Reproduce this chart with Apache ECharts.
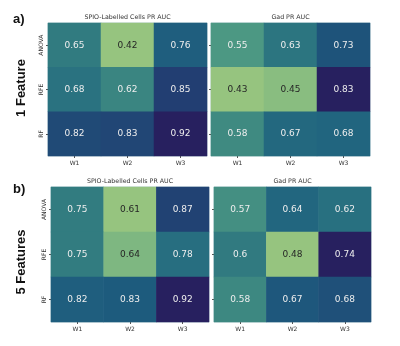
<!DOCTYPE html>
<html>
<head>
<meta charset="utf-8">
<script src="https://cdn.jsdelivr.net/npm/echarts@6/dist/echarts.min.js"></script>
<style>
html, body { margin: 0; padding: 0; background: #fff; }
#chart { width: 400px; height: 346px; }
</style>
</head>
<body>
<div id="chart"></div>
<script>
// categories
const rows = ['ANOVA', 'RFE', 'RF'];
const cols = ['W1', 'W2', 'W3'];

// values per panel, rows top->bottom, cols left->right
const spio1 = [[0.65, 0.42, 0.76], [0.68, 0.62, 0.85], [0.82, 0.83, 0.92]];
const gad1 = [[0.55, 0.63, 0.73], [0.43, 0.45, 0.83], [0.58, 0.67, 0.68]];
const spio5 = [[0.75, 0.61, 0.87], [0.75, 0.64, 0.78], [0.82, 0.83, 0.92]];
const gad5 = [[0.57, 0.64, 0.62], [0.6, 0.48, 0.74], [0.58, 0.67, 0.68]];

const panelTitles = ['SPIO-Labelled Cells PR AUC', 'Gad PR AUC', 'SPIO-Labelled Cells PR AUC', 'Gad PR AUC'];

// crest-like ramp, light green -> dark navy
const crest = ['#96c47f', '#72b182', '#4f9b83', '#357f80', '#246b80', '#1d5a7d', '#223f72', '#27205f'];

const font = 'DejaVu Sans, sans-serif';
const panels = [spio1, gad1, spio5, gad5];
const grids = [
	{left: 48, top: 23, width: 159, height: 133},
	{left: 211, top: 23, width: 159, height: 133},
	{left: 51, top: 187, width: 158, height: 135},
	{left: 214, top: 187, width: 157, height: 135},
];

function buildData(m) {
	const flat = m.flat();
	const lo = Math.min(...flat), hi = Math.max(...flat);
	const out = [];
	m.forEach((r, ri) => r.forEach((v, ci) => {
		const t = (v - lo) / (hi - lo);
		out.push({
			value: [ci, ri, v],
			label: {color: t < 0.25 ? '#262626' : '#eeeeee'}
		});
	}));
	return {out, lo, hi};
}

const option = {
	animation: false,
	backgroundColor: '#fff',
	title: [],
	grid: [],
	xAxis: [],
	yAxis: [],
	visualMap: [],
	series: [],
	graphic: [
		{type: 'text', left: 13, top: 13, style: {text: 'a)', font: 'bold 13px Liberation Sans, Arial, sans-serif', fill: '#111'}},
		{type: 'text', left: 13, top: 183, style: {text: 'b)', font: 'bold 13px Liberation Sans, Arial, sans-serif', fill: '#111'}},
		{type: 'text', x: 21, y: 88, rotation: Math.PI / 2,
			style: {text: '1 Feature', font: 'bold 13px Liberation Sans, Arial, sans-serif', fill: '#111', align: 'center', verticalAlign: 'middle'}},
		{type: 'text', x: 21, y: 262, rotation: Math.PI / 2,
			style: {text: '5 Features', font: 'bold 13px Liberation Sans, Arial, sans-serif', fill: '#111', align: 'center', verticalAlign: 'middle'}},
	]
};

panels.forEach((m, i) => {
	const g = grids[i];
	const d = buildData(m);
	option.grid.push(Object.assign({show: true, borderColor: '#b9d0d6', borderWidth: 1, backgroundColor: 'transparent'}, g));
	option.title.push({
		text: panelTitles[i],
		left: g.left + g.width / 2,
		top: g.top - 9,
		padding: 0,
		textAlign: 'center',
		textStyle: {fontFamily: font, fontSize: 6.3, fontWeight: 'normal', color: '#333'}
	});
	option.xAxis.push({
		type: 'category', gridIndex: i, data: cols, position: 'bottom',
		axisLine: {show: false}, splitLine: {show: false}, splitArea: {show: false},
		axisTick: {show: true, alignWithLabel: true, length: 2, lineStyle: {color: '#555'}},
		axisLabel: {fontFamily: font, fontSize: 6, color: '#333', margin: 4}
	});
	option.yAxis.push({
		type: 'category', gridIndex: i, data: rows, inverse: true,
		axisLine: {show: false}, splitLine: {show: false}, splitArea: {show: false},
		axisTick: {show: true, alignWithLabel: true, length: 2, lineStyle: {color: '#555'}},
		axisLabel: {show: i % 2 === 0, fontFamily: font, fontSize: 6, color: '#333', rotate: 90, margin: 4}
	});
	option.visualMap.push({
		show: false, type: 'continuous', seriesIndex: i, dimension: 2,
		min: d.lo, max: d.hi, inRange: {color: crest}
	});
	option.series.push({
		type: 'heatmap', xAxisIndex: i, yAxisIndex: i, data: d.out,
		label: {show: true, fontFamily: font, fontSize: 9, formatter: p => String(p.value[2])},
		itemStyle: {borderWidth: 0}
	});
});

const chart = echarts.init(document.getElementById('chart'), null, {renderer: 'canvas'});
chart.setOption(option);
</script>
</body>
</html>
